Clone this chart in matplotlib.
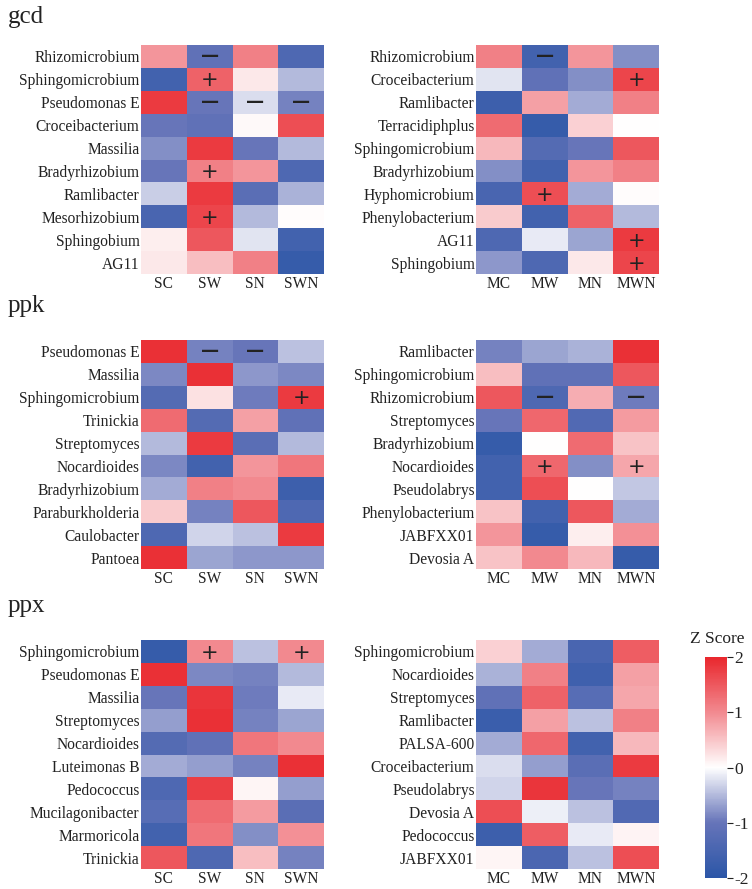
import matplotlib
matplotlib.use("Agg")
import matplotlib.pyplot as plt
import numpy as np
from matplotlib.colors import LinearSegmentedColormap, Normalize
from matplotlib.cm import ScalarMappable

plt.rcParams['font.family'] = ['Liberation Serif', 'DejaVu Serif']

# ---------------- data ----------------
s_cols = ["SC", "SW", "SN", "SWN"]
m_cols = ["MC", "MW", "MN", "MWN"]

gcd_s_rows = ["Rhizomicrobium", "Sphingomicrobium", "Pseudomonas E", "Croceibacterium", "Massilia",
              "Bradyrhizobium", "Ramlibacter", "Mesorhizobium", "Sphingobium", "AG11"]
gcd_s_vals = [[0.9, -1.1, 1.1, -1.4],
              [-1.6, 1.4, 0.2, -0.5],
              [1.8, -1.0, -0.25, -0.9],
              [-1.0, -1.1, 0.05, 1.6],
              [-0.8, 1.8, -1.0, -0.5],
              [-1.0, 1.1, 0.9, -1.4],
              [-0.35, 1.8, -1.2, -0.55],
              [-1.5, 1.7, -0.5, 0.02],
              [0.15, 1.5, -0.2, -1.6],
              [0.2, 0.55, 1.1, -1.8]]
gcd_s_sig = [["", "-", "", ""],
             ["", "+", "", ""],
             ["", "-", "-", "-"],
             ["", "", "", ""],
             ["", "", "", ""],
             ["", "+", "", ""],
             ["", "", "", ""],
             ["", "+", "", ""],
             ["", "", "", ""],
             ["", "", "", ""]]

gcd_m_rows = ["Rhizomicrobium", "Croceibacterium", "Ramlibacter", "Terracidiphplus", "Sphingomicrobium",
              "Bradyrhizobium", "Hyphomicrobium", "Phenylobacterium", "AG11", "Sphingobium"]
gcd_m_vals = [[1.1, -1.6, 0.9, -0.8],
              [-0.2, -1.1, -0.8, 1.7],
              [-1.7, 0.8, -0.6, 1.1],
              [1.3, -1.8, 0.4, 0.0],
              [0.6, -1.3, -1.0, 1.5],
              [-0.8, -1.6, 0.9, 1.1],
              [-1.5, 1.6, -0.6, 0.02],
              [0.45, -1.6, 1.4, -0.5],
              [-1.4, -0.15, -0.65, 1.8],
              [-0.75, -1.4, 0.2, 1.7]]
gcd_m_sig = [["", "-", "", ""],
             ["", "", "", "+"],
             ["", "", "", ""],
             ["", "", "", ""],
             ["", "", "", ""],
             ["", "", "", ""],
             ["", "+", "", ""],
             ["", "", "", ""],
             ["", "", "", "+"],
             ["", "", "", "+"]]

ppk_s_rows = ["Pseudomonas E", "Massilia", "Sphingomicrobium", "Trinickia", "Streptomyces",
              "Nocardioides", "Bradyrhizobium", "Paraburkholderia", "Caulobacter", "Pantoea"]
ppk_s_vals = [[1.9, -0.9, -1.0, -0.45],
              [-0.85, 1.9, -0.75, -0.85],
              [-1.3, 0.25, -0.95, 1.8],
              [1.3, -1.3, 0.8, -1.1],
              [-0.5, 1.8, -1.2, -0.5],
              [-0.85, -1.6, 0.9, 1.2],
              [-0.6, 1.1, 1.0, -1.7],
              [0.45, -0.9, 1.5, -1.4],
              [-1.4, -0.3, -0.45, 1.8],
              [1.9, -0.65, -0.75, -0.75]]
ppk_s_sig = [["", "-", "-", ""],
             ["", "", "", ""],
             ["", "", "", "+"],
             ["", "", "", ""],
             ["", "", "", ""],
             ["", "", "", ""],
             ["", "", "", ""],
             ["", "", "", ""],
             ["", "", "", ""],
             ["", "", "", ""]]

ppk_m_rows = ["Ramlibacter", "Sphingomicrobium", "Rhizomicrobium", "Streptomyces", "Bradyrhizobium",
              "Nocardioides", "Pseudolabrys", "Phenylobacterium", "JABFXX01", "Devosia A"]
ppk_m_vals = [[-0.9, -0.65, -0.55, 1.9],
              [0.55, -1.1, -1.1, 1.5],
              [1.5, -1.4, 0.7, -0.95],
              [-1.0, 1.35, -1.35, 0.85],
              [-1.8, 0.0, 1.3, 0.5],
              [-1.6, 1.35, -0.8, 0.75],
              [-1.6, 1.6, 0.0, -0.4],
              [0.5, -1.6, 1.5, -0.6],
              [0.9, -1.8, 0.15, 0.95],
              [0.5, 1.0, 0.6, -1.8]]
ppk_m_sig = [["", "", "", ""],
             ["", "", "", ""],
             ["", "-", "", "-"],
             ["", "", "", ""],
             ["", "", "", ""],
             ["", "+", "", "+"],
             ["", "", "", ""],
             ["", "", "", ""],
             ["", "", "", ""],
             ["", "", "", ""]]

ppx_s_rows = ["Sphingomicrobium", "Pseudomonas E", "Massilia", "Streptomyces", "Nocardioides",
              "Luteimonas B", "Pedococcus", "Mucilagonibacter", "Marmoricola", "Trinickia"]
ppx_s_vals = [[-1.8, 1.0, -0.45, 1.0],
              [1.9, -0.85, -0.9, -0.5],
              [-1.0, 1.85, -0.95, -0.15],
              [-0.7, 1.9, -0.9, -0.65],
              [-1.3, -1.1, 1.2, 1.0],
              [-0.6, -0.7, -0.9, 1.9],
              [-1.4, 1.75, 0.08, -0.7],
              [-1.25, 1.3, 0.85, -1.2],
              [-1.6, 1.2, -0.8, 0.95],
              [1.5, -1.4, 0.55, -0.9]]
ppx_s_sig = [["", "+", "", "+"]] + [["", "", "", ""] for _ in range(9)]

ppx_m_rows = ["Sphingomicrobium", "Nocardioides", "Streptomyces", "Ramlibacter", "PALSA-600",
              "Croceibacterium", "Pseudolabrys", "Devosia A", "Pedococcus", "JABFXX01"]
ppx_m_vals = [[0.4, -0.6, -1.5, 1.45],
              [-0.55, 1.1, -1.65, 0.8],
              [-1.1, 1.4, -1.25, 0.75],
              [-1.75, 0.8, -0.45, 1.1],
              [-0.6, 1.35, -1.6, 0.6],
              [-0.25, -0.7, -1.2, 1.8],
              [-0.3, 1.85, -1.0, -0.9],
              [1.6, -0.12, -0.45, -1.35],
              [-1.7, 1.45, -0.15, 0.1],
              [0.08, -1.45, -0.45, 1.6]]
ppx_m_sig = [["", "", "", ""] for _ in range(10)]

titles = ["gcd", "ppk", "ppx"]
cbar_ticks = [2, 1, 0, -1, -2]

# ---------------- style ----------------
cmap = LinearSegmentedColormap.from_list(
    "bwr_custom",
    [(0.0, "#2b56a7"), (0.25, "#6674b9"), (0.5, "#ffffff"), (0.75, "#f28a90"), (1.0, "#e9272d")])
norm = Normalize(vmin=-2, vmax=2)

W, H = 752, 889
fig = plt.figure(figsize=(W / 100, H / 100), dpi=100)


def fx(px):
    return px / W


def fy(py):
    return 1 - py / H


panels = [
    (titles[0], [(gcd_s_rows, gcd_s_vals, gcd_s_sig, s_cols), (gcd_m_rows, gcd_m_vals, gcd_m_sig, m_cols)], 45, 17),
    (titles[1], [(ppk_s_rows, ppk_s_vals, ppk_s_sig, s_cols), (ppk_m_rows, ppk_m_vals, ppk_m_sig, m_cols)], 340, 306),
    (titles[2], [(ppx_s_rows, ppx_s_vals, ppx_s_sig, s_cols), (ppx_m_rows, ppx_m_vals, ppx_m_sig, m_cols)], 640, 606),
]
lefts = [141, 476]
ax_w, ax_h = 183, 229

for title, heatmaps, top, ty in panels:
    fig.text(fx(8), fy(ty), title, fontsize=18, ha="left", va="center", color="#222222")
    for (rows, vals, sig, cols), lx in zip(heatmaps, lefts):
        ax = fig.add_axes([fx(lx), fy(top + ax_h), ax_w / W, ax_h / H])
        arr = np.array(vals)
        ax.pcolormesh(np.arange(len(cols) + 1), np.arange(len(rows) + 1), arr,
                      cmap=cmap, norm=norm, edgecolor="none")
        ax.set_xlim(0, len(cols))
        ax.set_ylim(len(rows), 0)
        ax.set_xticks(np.arange(len(cols)) + 0.5)
        ax.set_xticklabels(cols, fontsize=11.2)
        ax.set_yticks(np.arange(len(rows)) + 0.5)
        ax.set_yticklabels(rows, fontsize=11.2)
        ax.tick_params(length=0, pad=1.0, colors="#222222")
        ax.tick_params(axis="x", pad=1.5)
        for s in ax.spines.values():
            s.set_visible(False)
        for i, r in enumerate(sig):
            for j, m in enumerate(r):
                if m == "+":
                    ax.text(j + 0.5, i + 0.55, "+", ha="center", va="center", fontsize=15,
                            color="#222222", family="DejaVu Sans")
                elif m == "-":
                    ax.text(j + 0.5, i + 0.5, "\u2014", ha="center", va="center", fontsize=13,
                            color="#222222", family="DejaVu Sans", fontweight="bold")

# colorbar
cax = fig.add_axes([fx(705), fy(878), 22 / W, 221 / H])
cb = fig.colorbar(ScalarMappable(norm=norm, cmap=cmap), cax=cax, ticks=cbar_ticks)
cb.outline.set_visible(False)
cb.ax.tick_params(labelsize=12.5, length=4, width=0.8, pad=1, colors="#222222")
cb.ax.set_yticklabels([str(t) for t in cbar_ticks])
fig.text(fx(717), fy(639), "Z Score", ha="center", va="center", fontsize=12.5, color="#222222")

fig.savefig("out.png", dpi=100, facecolor="white")
